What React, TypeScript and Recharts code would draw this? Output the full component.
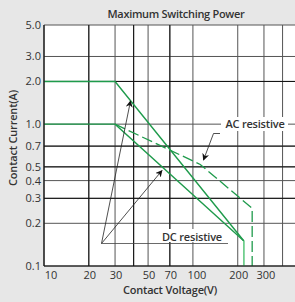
import { LineChart, Line, XAxis, YAxis, CartesianGrid, ReferenceLine } from "recharts";

// x: contact voltage (V), y: contact current (A)
const xTicks = [10, 20, 30, 40, 50, 70, 100, 200, 300, 400];
const xHidden = [40, 400];
const yTicks = [0.1, 0.2, 0.3, 0.4, 0.5, 0.7, 1, 2, 3, 5];

const dcUpper = [
  { v: 10, a: 2 },
  { v: 30, a: 2 },
  { v: 220, a: 0.15 },
];
const dcLower = [
  { v: 10, a: 1 },
  { v: 30, a: 1 },
  { v: 220, a: 0.15 },
];
const dcCutoff = [
  { v: 220, a: 0.15 },
  { v: 220, a: 0.1 },
];
const acResistive = [
  { v: 30, a: 1 },
  { v: 112, a: 0.52 },
  { v: 250, a: 0.255 },
  { v: 250, a: 0.1 },
];

const darkX = [20, 40, 70];
const darkY = [2, 0.7, 0.5, 0.3];

const font = "'Open Sans', 'Noto Sans', sans-serif";
const green = "#1f9b4c";

const XTick = (props: any) => {
  const { x, y, payload } = props;
  if (xHidden.includes(payload.value)) return null;
  const dx = payload.value === 10 ? 7 : payload.value === 100 ? 4 : payload.value === 300 ? 2 : 1;
  return (
    <text x={x + dx} y={y + 10} textAnchor="middle" fontSize={11} fill="#333" fontFamily={font}>
      {payload.value}
    </text>
  );
};

const YTick = (props: any) => {
  const { x, y, payload } = props;
  return (
    <text x={x} y={y + 4} textAnchor="end" fontSize={11} fill="#333" fontFamily={font}>
      {payload.value.toFixed(1)}
    </text>
  );
};

export default function App() {
  return (
    <div
      style={{
        position: "absolute",
        left: 0,
        top: 0,
        width: 295,
        height: 302,
        overflow: "hidden",
        background: "#e7e7e7",
      }}
    >
      <LineChart width={300} height={302} margin={{ top: 25, right: 3, bottom: 0, left: 0 }}>
        <CartesianGrid stroke="#555" strokeWidth={1} fill="#fff" />
        {darkX.map((v) => (
          <ReferenceLine key={"x" + v} x={v} stroke="#111" strokeWidth={1} />
        ))}
        {darkY.map((v) => (
          <ReferenceLine key={"y" + v} y={v} stroke="#111" strokeWidth={1} />
        ))}
        <XAxis
          dataKey="v"
          type="number"
          scale="log"
          domain={[10, 500]}
          ticks={xTicks}
          interval={0}
          allowDataOverflow
          height={36}
          tickLine={false}
          tickSize={0}
          tickMargin={3}
          axisLine={{ stroke: "#111", strokeWidth: 1.2 }}
          tick={<XTick />}
        />
        <YAxis
          dataKey="a"
          type="number"
          scale="log"
          domain={[0.1, 5]}
          ticks={yTicks}
          interval={0}
          allowDataOverflow
          width={44}
          tickLine={false}
          tickSize={0}
          tickMargin={3}
          axisLine={{ stroke: "#111", strokeWidth: 1.2 }}
          tick={<YTick />}
        />
        <Line data={dcUpper} dataKey="a" stroke={green} strokeWidth={1.4} dot={false} isAnimationActive={false} />
        <Line data={dcLower} dataKey="a" stroke={green} strokeWidth={1.4} dot={false} isAnimationActive={false} />
        <Line data={dcCutoff} dataKey="a" stroke="#62c982" strokeWidth={1.6} dot={false} isAnimationActive={false} />
        <Line
          data={acResistive}
          dataKey="a"
          stroke={green}
          strokeWidth={1.3}
          strokeDasharray="11 4"
          dot={false}
          isAnimationActive={false}
        />
      </LineChart>

      {/* titles and callouts */}
      <svg width={295} height={302} style={{ position: "absolute", left: 0, top: 0, pointerEvents: "none" }}>
        <defs>
          <marker id="head" viewBox="0 0 10 10" refX="9" refY="5" markerWidth="7" markerHeight="7" orient="auto-start-reverse" markerUnits="userSpaceOnUse">
            <path d="M0,0 L10,5 L0,10 L3,5 z" fill="#111" />
          </marker>
        </defs>
        <text x={176} y={18} textAnchor="middle" fontSize={11} fontWeight={600} fill="#333" fontFamily={font} letterSpacing={-0.3}>
          Maximum Switching Power
        </text>
        <text
          x={0}
          y={0}
          transform="translate(17,138) rotate(-90)"
          textAnchor="middle"
          fontSize={11}
          fontWeight={600}
          fill="#333"
          fontFamily={font}
          letterSpacing={-0.2}
        >
          Contact Current(A)
        </text>
        <text x={170} y={294} textAnchor="middle" fontSize={11} fontWeight={600} fill="#333" fontFamily={font} letterSpacing={-0.2}>
          Contact Voltage(V)
        </text>

        {/* AC callout */}
        <rect x={221} y={117} width={67} height={14} fill="#fff" />
        <text x={255} y={128} textAnchor="middle" fontSize={11} fontWeight={600} fill="#333" fontFamily={font} letterSpacing={-0.2}>
          AC resistive
        </text>
        <polyline points="220,133.5 213.5,133.5 203.5,160" fill="none" stroke="#222" strokeWidth={0.8} markerEnd="url(#head)" />

        {/* DC callout */}
        <rect x={157} y={229} width={70} height={13} fill="#fff" />
        <text x={192} y={241} textAnchor="middle" fontSize={11} fontWeight={600} fill="#333" fontFamily={font} letterSpacing={-0.2}>
          DC resistive
        </text>
        <line x1={101.5} y1={243.5} x2={228} y2={243.5} stroke="#444" strokeWidth={0.8} />
        <line x1={101.5} y1={243.5} x2={130.5} y2={101} stroke="#222" strokeWidth={0.8} markerEnd="url(#head)" />
        <line x1={101.5} y1={243.5} x2={162} y2={170.5} stroke="#222" strokeWidth={0.8} markerEnd="url(#head)" />
      </svg>
    </div>
  );
}
